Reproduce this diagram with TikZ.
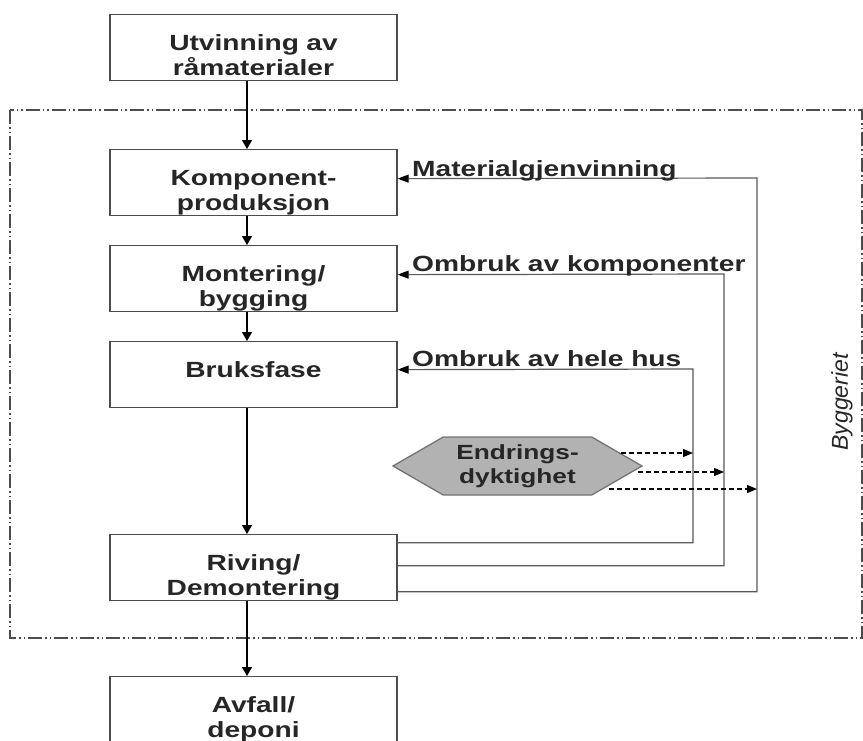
\documentclass[tikz,border=0pt]{standalone}
\usepackage{fontspec}
\setmainfont{Liberation Sans}[FakeStretch=1.28]
\newfontfamily\rotfont{Liberation Sans}
\usetikzlibrary{arrows.meta,shapes.symbols,calc}
\newcommand\dgboxfont{\fontsize{22}{25}\selectfont\bfseries}
\newcommand\dghexfont{\fontsize{20.5}{24}\selectfont\bfseries}
\begin{document}
\begin{tikzpicture}[x=1pt,y=-1pt,
  box/.style={draw=black!70, line width=1.3pt, rectangle, inner sep=0pt,
    text width=287pt, align=center, text height=36pt, text depth=30pt,
    font=\dgboxfont, text=black!85},
  arr/.style={draw=black, line width=1.3pt, -{Triangle[length=9pt,width=10pt]}},
  fb/.style={draw=black!65, line width=1.2pt, -{Triangle[length=11pt,width=8pt,color=black]}},
  dsh/.style={draw=black, line width=1.2pt, dash pattern=on 5pt off 3pt, -{Triangle[length=10pt,width=8pt]}},
  lab/.style={font=\dgboxfont, text=black!85, inner sep=0pt, anchor=base west},
  hexa/.style={signal, signal to=west and east, signal pointer angle=60,
    minimum width=249pt, minimum height=58pt, inner sep=0pt,
    fill=black!30, draw=black!55, line width=1.3pt, align=center,
    font=\dghexfont, text=black!85},
  frame/.style={draw=black!70, line width=1.3pt,
    dash pattern=on 14pt off 3pt on 1.5pt off 3pt on 1.5pt off 3pt}
]
\useasboundingbox (0,0) rectangle (863,740);

% system boundary
\draw[frame] (10,110) rectangle (862,638);
\node[rotate=90, font=\rotfont\itshape\fontsize{23}{26}\selectfont, text=black!85] (bygg) at (842,402) {Byggeriet};

% boxes
\node[box, anchor=north] (top)  at (253.5,14)  {Utvinning av\\råmaterialer};
\node[box, anchor=north] (komp) at (253.5,149) {Komponent-\\produksjon};
\node[box, anchor=north] (mont) at (253.5,245) {Montering/\\bygging};
\node[box, anchor=north] (bruk) at (253.5,341) {Bruksfase};
\node[box, anchor=north] (riv)  at (253.5,534) {Riving/\\Demontering};
\node[box, anchor=north] (avf)  at (253.5,676) {Avfall/\\deponi};

% main flow
\draw[arr] ([xshift=-6.5pt]top.south)  -- ([xshift=-6.5pt]komp.north);
\draw[arr] ([xshift=-6.5pt]komp.south) -- ([xshift=-6.5pt]mont.north);
\draw[arr] ([xshift=-6.5pt]mont.south) -- ([xshift=-6.5pt]bruk.north);
\draw[arr] ([xshift=-6.5pt]bruk.south) -- ([xshift=-6.5pt]riv.north);
\draw[arr] ([xshift=-6.5pt]riv.south)  -- ([xshift=-6.5pt]avf.north);

% feedback loops
\coordinate (c1) at (693,369);
\coordinate (c2) at (724,274);
\coordinate (c3) at (757,178);
\draw[fb] ([yshift=25pt]riv.east)  -| (c1) -- ([yshift=5pt]bruk.east);
\draw[fb] ([yshift=2pt]riv.east)   -| (c2) -- ([yshift=4pt]mont.east);
\draw[fb] ([yshift=-24pt]riv.east) -| (c3) -- ([yshift=4pt]komp.east);

\node[lab] (lmat) at (412,176) {Materialgjenvinning};
\node[lab] (lkomp) at (412,271) {Ombruk av komponenter};
\node[lab] (lhus) at (412,366) {Ombruk av hele hus};

% adaptability
\node[hexa] (hex) at (517.5,466) {Endrings-\\dyktighet};
\coordinate (s1) at ($(hex.east)+(-22,-13)$);
\coordinate (s2) at ($(hex.east)+(-5,6)$);
\coordinate (s3) at ($(hex.east)+(-34,23)$);
\draw[dsh] (s1) -- (s1 -| c1);
\draw[dsh] (s2) -- (s2 -| c2);
\draw[dsh] (s3) -- (s3 -| c3);
\end{tikzpicture}
\end{document}
